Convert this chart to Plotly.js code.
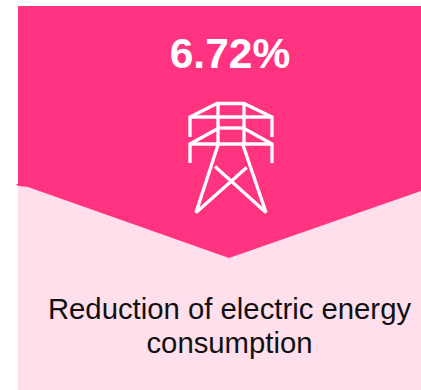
<!DOCTYPE html>
<html>
<head>
<meta charset="utf-8">
<script src="https://cdn.plot.ly/plotly-3.0.1.min.js"></script>
<style>html,body{margin:0;padding:0;background:#fff;overflow:hidden}#chart{width:421px;height:390px}</style>
</head>
<body>
<div id="chart"></div>
<script>
// Card outlines in a 421 x 390 coordinate space
const panelX = [18, 421, 421, 18, 18];
const panelY = [6, 6, 390, 390, 6];
const bannerX = [18, 421, 421, 229, 28, 18, 16, 18, 18];
const bannerY = [6, 6, 191, 258, 187, 186, 184, 184, 6];

// Pylon icon strokes; null separates the segments
const pylonX = [
  190, 190, 217, 244, 272, 272, null,
  190, 272, null,
  218, 218, null,
  244, 244, null,
  218, 244, null,
  190, 190, 218, null,
  272, 272, 244, null,
  190, 272, null,
  218, 196, 246.7, null,
  243, 266, 215
];
const pylonY = [
  137, 117, 103.5, 103.5, 117, 137, null,
  117, 117, null,
  103.5, 144, null,
  103.5, 144, null,
  128, 128, null,
  163, 144, 128.5, null,
  163, 144, 128.5, null,
  144, 144, null,
  145, 212.5, 167.5, null,
  145, 212.5, 166.5
];

const headline = "6.72%";
const captionLines = ["Reduction of electric energy", "consumption"];

const CANVAS_W = 421, CANVAS_H = 390;

const traces = [
  {x: panelX, y: panelY, mode: "lines", fill: "toself", fillcolor: "#FFDFEB", line: {width: 0}, hoverinfo: "skip"},
  {x: bannerX, y: bannerY, mode: "lines", fill: "toself", fillcolor: "#FF3380", line: {width: 0}, hoverinfo: "skip"},
  {x: pylonX, y: pylonY, mode: "lines", line: {color: "#FFFFFF", width: 3.3, shape: "linear"}, connectgaps: false, hoverinfo: "skip"},
  {x: [230], y: [57], mode: "text", text: [headline], textposition: "middle center",
   textfont: {family: "Liberation Sans, Arial, sans-serif", size: 42.5, color: "#FFFFFF"},
   texttemplate: "<b>%{text}</b>", hoverinfo: "skip"},
  {x: [229.5, 229.5], y: [312, 345.5], mode: "text", text: captionLines, textposition: "middle center",
   textfont: {family: "Liberation Sans, Arial, sans-serif", size: 29.3, color: "#111111"}, hoverinfo: "skip"}
];

const hiddenAxis = {visible: false, fixedrange: true};

const layout = {
  width: CANVAS_W,
  height: CANVAS_H,
  margin: {l: 0, r: 0, t: 0, b: 0},
  paper_bgcolor: "#FFFFFF",
  plot_bgcolor: "#FFFFFF",
  showlegend: false,
  xaxis: Object.assign({range: [0, CANVAS_W]}, hiddenAxis),
  yaxis: Object.assign({range: [CANVAS_H, 0]}, hiddenAxis)
};

Plotly.newPlot("chart", traces, layout, {displayModeBar: false, staticPlot: true});
</script>
</body>
</html>
